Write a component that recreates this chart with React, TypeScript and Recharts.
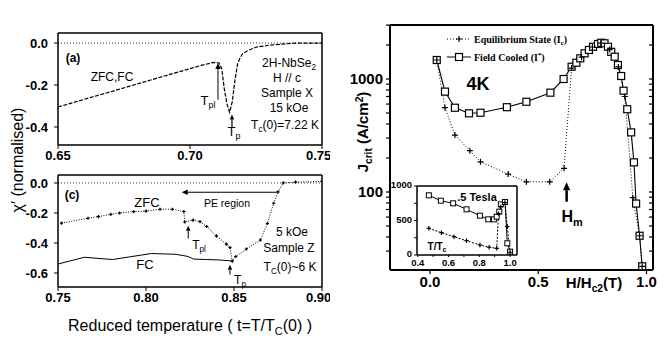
import React from "react";
import { LineChart, Line, XAxis, YAxis, ReferenceLine } from "recharts";

// (a) 2H-NbSe2, sample X, 15 kOe — ZFC and FC coincide
const aT = [0.65, 0.66, 0.67, 0.68, 0.69, 0.7, 0.705, 0.709, 0.711, 0.712, 0.713, 0.714, 0.715, 0.716, 0.717, 0.718, 0.719, 0.72, 0.722, 0.725, 0.73, 0.74, 0.75];
const aChi = [-0.305, -0.268, -0.232, -0.195, -0.158, -0.122, -0.104, -0.092, -0.095, -0.12, -0.22, -0.29, -0.33, -0.28, -0.18, -0.1, -0.07, -0.05, -0.035, -0.02, -0.01, 0, 0];

// (c) sample Z, 5 kOe
const cZfcT = [0.752, 0.767, 0.773, 0.78, 0.785, 0.793, 0.8, 0.808, 0.815, 0.8215, 0.822, 0.8267, 0.8307, 0.8345, 0.84, 0.8457, 0.8477, 0.849, 0.851, 0.857, 0.865, 0.869, 0.8725, 0.875, 0.878, 0.885, 0.9];
const cZfc = [-0.267, -0.235, -0.224, -0.209, -0.2, -0.191, -0.187, -0.175, -0.175, -0.19, -0.26, -0.247, -0.258, -0.29, -0.353, -0.407, -0.43, -0.52, -0.49, -0.44, -0.38, -0.27, -0.135, -0.06, 0, 0.005, 0.01];
const cFcT = [0.75, 0.765, 0.781, 0.792, 0.803, 0.817, 0.824, 0.827, 0.8345, 0.842, 0.849];
const cFc = [-0.54, -0.495, -0.51, -0.49, -0.47, -0.475, -0.49, -0.507, -0.51, -0.513, -0.52];

// right: Jcrit vs H/Hc2 at 4K (log scale)
const fcH = [0.031, 0.069, 0.115, 0.18, 0.233, 0.355, 0.445, 0.556, 0.617, 0.654, 0.676, 0.694, 0.714, 0.734, 0.753, 0.776, 0.791, 0.806, 0.822, 0.837, 0.853, 0.868, 0.883, 0.894, 0.911, 0.929, 0.942, 0.952, 0.968, 0.98];
const fcJ = [1473, 773, 557, 497, 503, 563, 629, 757, 1000, 1284, 1394, 1525, 1688, 1807, 1930, 2042, 2093, 2070, 1930, 1740, 1575, 1330, 1063, 788, 540, 337, 183, 79, 41, 22];
const eqH = [0.031, 0.069, 0.115, 0.184, 0.233, 0.361, 0.445, 0.553, 0.619, 0.654, 0.7, 0.75, 0.79, 0.83, 0.87, 0.9, 0.937, 0.968, 0.98];
const eqJ = [1473, 557, 319, 232, 185, 144, 123, 123, 162, 1250, 1560, 1920, 2080, 1820, 1280, 700, 89, 41, 22];

// inset: 5 Tesla, vs T/Tc
const inFcT = [0.472, 0.55, 0.63, 0.717, 0.804, 0.858, 0.895, 0.913, 0.93, 0.94, 0.967, 0.982, 1.0];
const inFcJ = [865, 787, 749, 662, 570, 517, 517, 555, 628, 734, 768, 170, 48];
const inEqT = [0.472, 0.554, 0.635, 0.717, 0.804, 0.864, 0.913, 0.925, 0.94, 0.967, 0.982, 1.0];
const inEqJ = [387, 323, 265, 207, 145, 112, 97, 600, 700, 760, 410, 40];

const aTicksX = [0.65, 0.7, 0.75];
const aTicksY = [-0.4, -0.2, 0];
const cTicksX = [0.75, 0.8, 0.85, 0.9];
const cTicksY = [-0.6, -0.4, -0.2, 0];
const rTicksX = [0, 0.5, 1.0];
const rTicksY = [30, 40, 50, 60, 70, 80, 90, 100, 200, 300, 400, 500, 600, 700, 800, 900, 1000, 2000, 3000];
const rLabelsY = [100, 1000];
const inTicksX = [0.4, 0.5, 0.6, 0.7, 0.8, 0.9, 1.0];
const inLabelsX = [0.4, 0.6, 0.8, 1.0];
const inTicksY = [0, 250, 500, 750, 1000];
const inLabelsY = [0, 500, 1000];

const pts = (xs: number[], ys: number[]) => xs.map((x, i) => ({ x, y: ys[i] }));

const FONT = "'Liberation Sans', Arial, sans-serif";
const tickFont = (size: number) => ({ fill: "#000", fontSize: size, fontWeight: "bold", fontFamily: FONT });
const axLine = (w: number) => ({ stroke: "#000", strokeWidth: w });
const blank = () => "";

const Square = (p: any) =>
  p.cx == null ? <g key={p.index} /> : (
    <rect key={p.index} x={p.cx - 3.5} y={p.cy - 3.5} width={7} height={7} fill="#fff" stroke="#000" strokeWidth={1.2} />
  );
const SmallSquare = (p: any) =>
  p.cx == null ? <g key={p.index} /> : (
    <rect key={p.index} x={p.cx - 2.5} y={p.cy - 2.5} width={5} height={5} fill="#fff" stroke="#000" strokeWidth={1} />
  );
const Cross = (s: number) => (p: any) =>
  p.cx == null ? <g key={p.index} /> : (
    <path key={p.index} d={`M${p.cx - s},${p.cy}h${2 * s}M${p.cx},${p.cy - s}v${2 * s}`} stroke="#000" strokeWidth={1.2} />
  );

const arrow = (w: number, head: number) => (p: any) => {
  const { x1, y1, x2, y2 } = p;
  const a = Math.atan2(y2 - y1, x2 - x1);
  const bx = x2 - head * Math.cos(a);
  const by = y2 - head * Math.sin(a);
  const hw = head * 0.45;
  const lx = bx + hw * Math.sin(a), ly = by - hw * Math.cos(a);
  const rx = bx - hw * Math.sin(a), ry = by + hw * Math.cos(a);
  return (
    <g>
      <line x1={x1} y1={y1} x2={bx} y2={by} stroke="#000" strokeWidth={w} />
      <path d={`M${x2},${y2}L${lx},${ly}L${rx},${ry}Z`} fill="#000" />
    </g>
  );
};

const Sub = ({ children }: { children: React.ReactNode }) => (
  <span style={{ fontSize: "0.68em", position: "relative", top: "0.35em" }}>{children}</span>
);
const Sup = ({ children }: { children: React.ReactNode }) => (
  <span style={{ fontSize: "0.68em", position: "relative", top: "-0.45em" }}>{children}</span>
);

function Note({ x, y, size = 12, weight = "bold", rotate = false, family = FONT, children }: any) {
  return (
    <div
      style={{
        position: "absolute",
        left: x,
        top: y,
        transform: `translate(-50%,-50%)${rotate ? " rotate(-90deg)" : ""}`,
        fontSize: size,
        fontWeight: weight,
        fontFamily: family,
        whiteSpace: "nowrap",
        lineHeight: 1,
        color: "#000",
      }}
    >
      {children}
    </div>
  );
}

function PanelA() {
  return (
    <LineChart width={330} height={170} margin={{ top: 33, right: 8, bottom: 0, left: 18 }}>
      <XAxis type="number" dataKey="x" domain={[0.65, 0.75]} ticks={aTicksX} tickFormatter={(v: number) => v.toFixed(2)} height={25}
        axisLine={axLine(1.5)} tickLine={axLine(1)} tickSize={4} tick={tickFont(13)} allowDataOverflow />
      <XAxis xAxisId="top" orientation="top" type="number" domain={[0.65, 0.75]} ticks={aTicksX} tickFormatter={blank} mirror
        axisLine={axLine(1.5)} tickLine={axLine(1)} tickSize={4} />
      <YAxis type="number" domain={[-0.486, 0.048]} ticks={aTicksY} tickFormatter={(v: number) => v.toFixed(1)} width={40}
        axisLine={axLine(1.5)} tickLine={axLine(1)} tickSize={4} tickMargin={6} tick={tickFont(13)} allowDataOverflow />
      <YAxis yAxisId="right" orientation="right" type="number" domain={[-0.486, 0.048]} ticks={aTicksY} tickFormatter={blank} mirror
        axisLine={axLine(1.5)} tickLine={axLine(1)} tickSize={4} />
      <ReferenceLine y={0} stroke="#000" strokeWidth={0.8} strokeDasharray="1 2" />
      <Line data={pts(aT, aChi)} dataKey="y" type="linear" stroke="#000" strokeWidth={1.2} strokeDasharray="4 1.5" dot={false} isAnimationActive={false} />
      <ReferenceLine segment={[{ x: 0.7106, y: -0.27 }, { x: 0.7106, y: -0.095 }]} shape={arrow(1, 6)} />
      <ReferenceLine segment={[{ x: 0.7159, y: -0.4 }, { x: 0.7159, y: -0.34 }]} shape={arrow(1.2, 5)} />
    </LineChart>
  );
}

function PanelC() {
  return (
    <LineChart width={330} height={150} margin={{ top: 15, right: 8, bottom: 0, left: 18 }}>
      <XAxis type="number" dataKey="x" domain={[0.75, 0.9]} ticks={cTicksX} tickFormatter={(v: number) => v.toFixed(2)} height={23}
        axisLine={axLine(1.5)} tickLine={axLine(1)} tickSize={4} tick={tickFont(13)} allowDataOverflow />
      <XAxis xAxisId="top" orientation="top" type="number" domain={[0.75, 0.9]} ticks={cTicksX} tickFormatter={blank} mirror
        axisLine={axLine(1.5)} tickLine={axLine(1)} tickSize={4} />
      <YAxis type="number" domain={[-0.693, 0.053]} ticks={cTicksY} tickFormatter={(v: number) => v.toFixed(1)} width={40}
        axisLine={axLine(1.5)} tickLine={axLine(1)} tickSize={4} tickMargin={6} tick={tickFont(13)} allowDataOverflow />
      <YAxis yAxisId="right" orientation="right" type="number" domain={[-0.693, 0.053]} ticks={cTicksY} tickFormatter={blank} mirror
        axisLine={axLine(1.5)} tickLine={axLine(1)} tickSize={4} />
      <ReferenceLine y={0} stroke="#000" strokeWidth={0.8} strokeDasharray="1 2" />
      <Line data={pts(cFcT, cFc)} dataKey="y" type="linear" stroke="#000" strokeWidth={1} dot={false} isAnimationActive={false} />
      <Line data={pts(cZfcT, cZfc)} dataKey="y" type="linear" stroke="#000" strokeWidth={1} strokeDasharray="1 1.5" dot={Cross(1.6)} isAnimationActive={false} />
      <ReferenceLine segment={[{ x: 0.8743, y: -0.062 }, { x: 0.8203, y: -0.062 }]} shape={arrow(1, 6)} />
      <ReferenceLine segment={[{ x: 0.824, y: -0.37 }, { x: 0.824, y: -0.285 }]} shape={arrow(1, 5)} />
      <ReferenceLine segment={[{ x: 0.8477, y: -0.61 }, { x: 0.8477, y: -0.545 }]} shape={arrow(1, 5)} />
    </LineChart>
  );
}

function PanelR() {
  return (
    <LineChart width={335} height={300} margin={{ top: 25, right: 12, bottom: 0, left: 10 }}>
      <XAxis type="number" dataKey="x" domain={[-0.185, 1.03]} ticks={rTicksX} tickFormatter={(v: number) => v.toFixed(1)} height={30}
        axisLine={axLine(2)} tickLine={axLine(1.2)} tickSize={4} tick={tickFont(15)} allowDataOverflow />
      <XAxis xAxisId="top" orientation="top" type="number" domain={[-0.185, 1.03]} ticks={rTicksX} tickFormatter={blank} mirror
        axisLine={axLine(2)} tickLine={axLine(1.2)} tickSize={5} />
      <YAxis type="number" scale="log" domain={[20.4, 3006]} ticks={rTicksY} interval={0}
        tickFormatter={(v: number) => (rLabelsY.includes(v) ? String(v) : "")} width={50}
        axisLine={axLine(2)} tickLine={axLine(1.2)} tickSize={4} tickMargin={3} tick={tickFont(15)} allowDataOverflow />
      <YAxis yAxisId="right" orientation="right" type="number" scale="log" domain={[20.4, 3006]} ticks={rTicksY} interval={0}
        tickFormatter={blank} mirror axisLine={axLine(2)} tickLine={axLine(1.2)} tickSize={4} allowDataOverflow />
      <Line data={pts(fcH, fcJ)} dataKey="y" type="linear" stroke="#000" strokeWidth={1.1} dot={Square} isAnimationActive={false} />
      <Line data={pts(eqH, eqJ)} dataKey="y" type="linear" stroke="#000" strokeWidth={1} strokeDasharray="1 2" dot={Cross(3)} isAnimationActive={false} />
      <ReferenceLine segment={[{ x: 0.631, y: 82 }, { x: 0.631, y: 122 }]} shape={arrow(2.5, 8)} />
    </LineChart>
  );
}

function Inset() {
  return (
    <LineChart width={145} height={95} margin={{ top: 6, right: 8, bottom: 5, left: 7 }}>
      <XAxis type="number" dataKey="x" domain={[0.395, 1.045]} ticks={inTicksX} interval={0}
        tickFormatter={(v: number) => (inLabelsX.some((l) => Math.abs(l - v) < 1e-6) ? v.toFixed(1) : "")} height={15}
        axisLine={axLine(1.5)} tickLine={axLine(1)} tickSize={2} tickMargin={2} tick={tickFont(9.5)} allowDataOverflow />
      <XAxis xAxisId="top" orientation="top" type="number" domain={[0.395, 1.045]} ticks={inTicksX} tickFormatter={blank} mirror
        axisLine={axLine(1.5)} tickLine={axLine(1)} tickSize={2} />
      <YAxis type="number" domain={[0, 1000]} ticks={inTicksY} interval={0}
        tickFormatter={(v: number) => (inLabelsY.includes(v) ? String(v) : "")} width={30}
        axisLine={axLine(1.5)} tickLine={axLine(1)} tickSize={3} tickMargin={2} tick={{ ...tickFont(9.5), dy: -1 }} allowDataOverflow />
      <YAxis yAxisId="right" orientation="right" type="number" domain={[0, 1000]} ticks={inTicksY} tickFormatter={blank} mirror
        axisLine={axLine(1.5)} tickLine={axLine(1)} tickSize={2} />
      <Line data={pts(inFcT, inFcJ)} dataKey="y" type="linear" stroke="#000" strokeWidth={1} dot={SmallSquare} isAnimationActive={false} />
      <Line data={pts(inEqT, inEqJ)} dataKey="y" type="linear" stroke="#000" strokeWidth={1} strokeDasharray="2 1.5" dot={Cross(2.2)} isAnimationActive={false} />
    </LineChart>
  );
}

function LegendRow({ y, solid, label }: { y: number; solid: boolean; label: React.ReactNode }) {
  return (
    <div style={{ position: "absolute", left: 446, top: y - 7, height: 14, display: "flex", alignItems: "center" }}>
      <svg width={26} height={14}>
        <line x1={1} y1={7} x2={25} y2={7} stroke="#000" strokeWidth={1} strokeDasharray={solid ? undefined : "1 2"} />
        {solid ? (
          <rect x={9.5} y={3.5} width={7} height={7} fill="#fff" stroke="#000" strokeWidth={1.2} />
        ) : (
          <path d="M10,7h6M13,4v6" stroke="#000" strokeWidth={1.2} />
        )}
      </svg>
      <span style={{ marginLeft: 2, fontFamily: "'Liberation Serif', serif", fontWeight: "bold", fontSize: 10, whiteSpace: "nowrap" }}>{label}</span>
    </div>
  );
}

export default function App() {
  return (
    <div style={{ position: "absolute", left: 0, top: 0, width: 665, height: 349, background: "#fff", fontFamily: FONT, overflow: "hidden" }}>
      <div style={{ position: "absolute", left: 0, top: 0 }}><PanelA /></div>
      <div style={{ position: "absolute", left: 0, top: 160 }}><PanelC /></div>
      <div style={{ position: "absolute", left: 330, top: 0 }}><PanelR /></div>
      <div style={{ position: "absolute", left: 417, top: 186, width: 100, height: 69, background: "#fff" }} />
      <div style={{ position: "absolute", left: 380, top: 180 }}><Inset /></div>

      {/* panel (a) notes */}
      <Note x={73} y={58} size={12}>(a)</Note>
      <Note x={112} y={77} size={12} weight="normal">ZFC,FC</Note>
      <Note x={289} y={63} size={12} weight="normal">2H-NbSe<Sub>2</Sub></Note>
      <Note x={287} y={78} size={12} weight="normal">H // c</Note>
      <Note x={287} y={93} size={12} weight="normal">Sample X</Note>
      <Note x={289} y={108} size={12} weight="normal">15 kOe</Note>
      <Note x={285} y={125} size={12} weight="normal">T<Sub>c</Sub>(0)=7.22 K</Note>
      <Note x={208} y={100} size={13} weight="normal">T<Sub>pl</Sub></Note>
      <Note x={234} y={131} size={13} weight="normal">T<Sub>p</Sub></Note>

      {/* panel (c) notes */}
      <Note x={72} y={195} size={12}>(c)</Note>
      <Note x={147} y={202} size={13} weight="normal">ZFC</Note>
      <Note x={227} y={203} size={10.5} weight="normal">PE region</Note>
      <Note x={292} y={232} size={12} weight="normal">5 kOe</Note>
      <Note x={289} y={248} size={12} weight="normal">Sample Z</Note>
      <Note x={290} y={267} size={12} weight="normal">T<Sub>C</Sub>(0)~6 K</Note>
      <Note x={145} y={264} size={13} weight="normal">FC</Note>
      <Note x={199} y={245} size={12} weight="normal">T<Sub>pl</Sub></Note>
      <Note x={240} y={280} size={12} weight="normal">T<Sub>p</Sub></Note>

      <Note x={18} y={160} size={16} weight="normal" rotate>χ′ (normalised)</Note>
      <Note x={190} y={326} size={16} weight="normal">Reduced temperature ( t=T/T<Sub>C</Sub>(0) )</Note>

      {/* right panel notes */}
      <LegendRow y={39} solid={false} label={<>Equilibrium State (I<Sub>c</Sub>)</>} />
      <LegendRow y={57} solid label={<>Field Cooled (I<Sup>*</Sup>)</>} />
      <Note x={478} y={84} size={18}>4K</Note>
      <Note x={363} y={132} size={15} rotate>J<Sub>crit</Sub> (A/cm<Sup>2</Sup>)</Note>
      <Note x={572} y={217} size={16}>H<Sub>m</Sub></Note>
      <Note x={594} y={283} size={15}>H/H<Sub>c2</Sub>(T)</Note>
      <Note x={477} y={197} size={11}>.5 Tesla</Note>
      <Note x={437} y={247} size={10}>T/T<Sub>c</Sub></Note>
    </div>
  );
}
